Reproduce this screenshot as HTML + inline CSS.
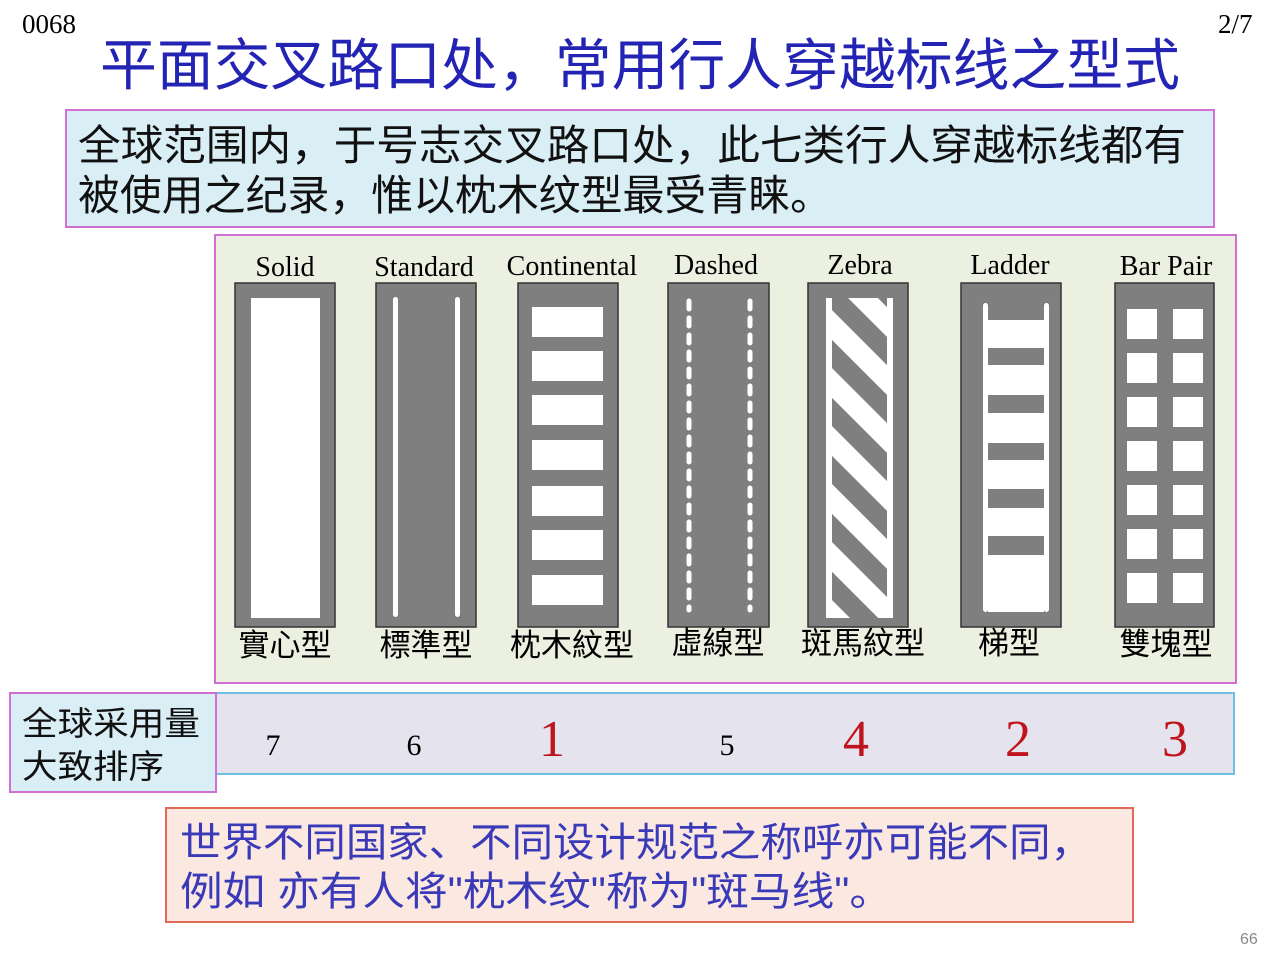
<!DOCTYPE html>
<html><head><meta charset="utf-8"><style>
html,body{margin:0;padding:0;background:#fff;width:1280px;height:960px;overflow:hidden}
svg{display:block}
.cjk{font-family:"Liberation Sans","Noto Sans CJK SC",sans-serif}
.ser{font-family:"Liberation Serif",serif}
</style></head><body>
<svg width="1280" height="960" viewBox="0 0 1280 960" xmlns="http://www.w3.org/2000/svg">
<defs>
<pattern id="zeb" patternUnits="userSpaceOnUse" width="41" height="41" patternTransform="rotate(-45)">
<rect x="0" y="0" width="20" height="41" fill="#7f7f7f"/>
</pattern>
<clipPath id="zc"><rect x="832" y="298" width="55" height="320"/></clipPath>
</defs>
<text x="22" y="33" class="ser" font-size="27" fill="#000">0068</text>
<text x="1218" y="33" class="ser" font-size="27" fill="#000">2/7</text>
<text x="100" y="85" class="cjk" font-size="56" fill="#2323b4" textLength="1080" lengthAdjust="spacingAndGlyphs">平面交叉路口处，常用行人穿越标线之型式</text>

<rect x="66" y="110" width="1148" height="117" fill="#d9eef5" stroke="#d070d0" stroke-width="2"/>
<text x="78" y="160" class="cjk" font-size="42" fill="#111" textLength="1108" lengthAdjust="spacingAndGlyphs">全球范围内，于号志交叉路口处，此七类行人穿越标线都有</text>
<text x="78" y="210" class="cjk" font-size="42" fill="#111" textLength="754" lengthAdjust="spacingAndGlyphs">被使用之纪录，惟以枕木纹型最受青睐。</text>

<rect x="215" y="235" width="1021" height="448" fill="#ecf0e1" stroke="#d070d0" stroke-width="2"/>

<g class="ser" font-size="28" fill="#000" text-anchor="middle">
<text x="285" y="276">Solid</text>
<text x="424" y="276">Standard</text>
<text x="572" y="275">Continental</text>
<text x="716" y="274">Dashed</text>
<text x="860" y="274">Zebra</text>
<text x="1010" y="274">Ladder</text>
<text x="1166" y="275">Bar Pair</text>
</g>

<g fill="#7f7f7f" stroke="#333" stroke-width="1.5">
<rect x="235" y="283" width="100" height="344"/>
<rect x="376" y="283" width="100" height="344"/>
<rect x="518" y="283" width="100" height="344"/>
<rect x="668" y="283" width="101" height="344"/>
<rect x="808" y="283" width="100" height="344"/>
<rect x="961" y="283" width="100" height="344"/>
<rect x="1115" y="283" width="99" height="344"/>
</g>
<!-- solid -->
<rect x="251" y="298" width="69" height="320" fill="#fff"/>
<!-- standard -->
<rect x="393" y="297" width="5" height="320" rx="2.5" fill="#fff"/>
<rect x="455" y="297" width="5" height="320" rx="2.5" fill="#fff"/>
<!-- continental -->
<g fill="#fff">
<rect x="532" y="307" width="71" height="30"/><rect x="532" y="351" width="71" height="30"/>
<rect x="532" y="395" width="71" height="30"/><rect x="532" y="440" width="71" height="30"/>
<rect x="532" y="486" width="71" height="30"/><rect x="532" y="530" width="71" height="30"/>
<rect x="532" y="575" width="71" height="30"/>
</g>
<!-- dashed -->
<line x1="689" y1="301" x2="689" y2="610" stroke="#fff" stroke-width="5" stroke-dasharray="8 9" stroke-linecap="round"/>
<line x1="750" y1="301" x2="750" y2="610" stroke="#fff" stroke-width="5" stroke-dasharray="8 9" stroke-linecap="round"/>
<!-- zebra -->
<rect x="826" y="298" width="67" height="320" fill="#fff"/>
<rect x="832" y="298" width="55" height="320" fill="url(#zeb)" clip-path="url(#zc)"/>
<!-- ladder -->
<rect x="983" y="303" width="5" height="309" rx="2.5" fill="#fff"/>
<rect x="1044" y="303" width="5" height="309" rx="2.5" fill="#fff"/>
<rect x="988" y="320" width="56" height="292" fill="#fff"/>
<g fill="#7f7f7f">
<rect x="988" y="348" width="56" height="17"/><rect x="988" y="395" width="56" height="18"/>
<rect x="988" y="443" width="56" height="17"/><rect x="988" y="489" width="56" height="19"/>
<rect x="988" y="536" width="56" height="19"/>
</g>
<!-- bar pair -->
<g fill="#fff">
<rect x="1127" y="309" width="30" height="30"/><rect x="1173" y="309" width="30" height="30"/>
<rect x="1127" y="353" width="30" height="30"/><rect x="1173" y="353" width="30" height="30"/>
<rect x="1127" y="397" width="30" height="30"/><rect x="1173" y="397" width="30" height="30"/>
<rect x="1127" y="441" width="30" height="30"/><rect x="1173" y="441" width="30" height="30"/>
<rect x="1127" y="485" width="30" height="30"/><rect x="1173" y="485" width="30" height="30"/>
<rect x="1127" y="529" width="30" height="30"/><rect x="1173" y="529" width="30" height="30"/>
<rect x="1127" y="573" width="30" height="30"/><rect x="1173" y="573" width="30" height="30"/>
</g>

<g class="cjk" font-size="31" fill="#000" text-anchor="middle">
<text x="285" y="656">實心型</text>
<text x="426" y="656">標準型</text>
<text x="572" y="656">枕木紋型</text>
<text x="718" y="654">虛線型</text>
<text x="863" y="654">斑馬紋型</text>
<text x="1009" y="654">梯型</text>
<text x="1166" y="655">雙塊型</text>
</g>

<rect x="216" y="693" width="1018" height="81" fill="#e5e3ee" stroke="#6ec0e0" stroke-width="2"/>
<rect x="10" y="693" width="206" height="99" fill="#d9eef5" stroke="#d070d0" stroke-width="2"/>
<text x="22" y="735" class="cjk" font-size="33" fill="#111" textLength="178" lengthAdjust="spacingAndGlyphs">全球采用量</text>
<text x="22" y="778" class="cjk" font-size="33" fill="#111" textLength="142" lengthAdjust="spacingAndGlyphs">大致排序</text>
<g class="ser" text-anchor="middle">
<text x="273" y="755" font-size="30" fill="#000">7</text>
<text x="414" y="755" font-size="30" fill="#000">6</text>
<text x="552" y="756" font-size="52" fill="#c0141c">1</text>
<text x="727" y="755" font-size="30" fill="#000">5</text>
<text x="856" y="756" font-size="52" fill="#c0141c">4</text>
<text x="1018" y="756" font-size="52" fill="#c0141c">2</text>
<text x="1175" y="756" font-size="52" fill="#c0141c">3</text>
</g>

<rect x="166" y="808" width="967" height="114" fill="#fbe9e1" stroke="#e06a55" stroke-width="2"/>
<text x="180" y="856" class="cjk" font-size="40" fill="#3a3ab8" textLength="912" lengthAdjust="spacingAndGlyphs">世界不同国家、不同设计规范之称呼亦可能不同，</text>
<text x="180" y="905" class="cjk" font-size="40" fill="#3a3ab8" textLength="712" lengthAdjust="spacingAndGlyphs">例如 亦有人将"枕木纹"称为"斑马线"。</text>

<text x="1240" y="944" class="cjk" font-size="16" fill="#888">66</text>
</svg>
</body></html>
